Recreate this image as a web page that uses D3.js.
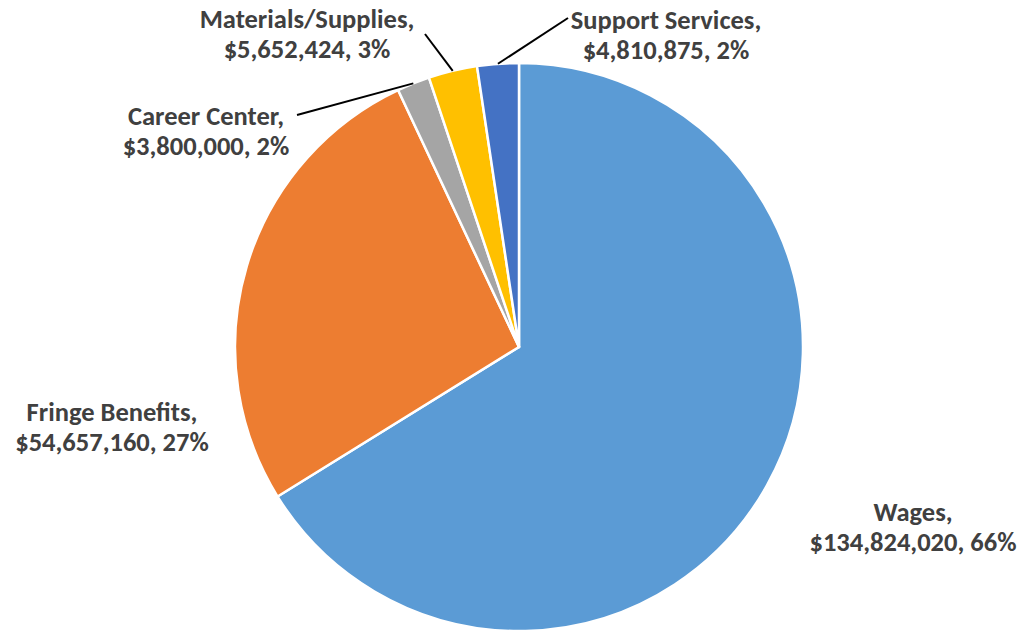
<!DOCTYPE html>
<html>
<head>
<meta charset="utf-8">
<script src="https://cdn.jsdelivr.net/npm/d3@7"></script>
<style>
  html, body { margin: 0; padding: 0; background: #fff; }
  svg text { font-family: Carlito, Lato, "Open Sans", sans-serif; font-weight: bold; fill: #404040; }
</style>
</head>
<body>
<script>
const w = 1021;
const h = 630;

// slice data, clockwise from 12 o'clock
const categories = ['Wages', 'Fringe Benefits', 'Career Center', 'Materials/Supplies', 'Support Services'];
const amounts = [134824020, 54657160, 3800000, 5652424, 4810875];
const percents = ['66%', '27%', '2%', '3%', '2%'];
const colors = ['#5B9BD5', '#ED7D31', '#A5A5A5', '#FFC000', '#4472C4'];

// label layout: centre of the two-line label, and where its leader line starts
const labelLayout = [
  { x: 913, y: 527, leader: false },
  { x: 112, y: 427, leader: false },
  { x: 206, y: 131, leader: true, lx: 297, ly: 115 },
  { x: 307, y: 34, leader: true, lx: 425, ly: 34 },
  { x: 666, y: 35, leader: true, lx: 568, ly: 18 }
];

const cx = 519, cy = 347, radius = 284;
const fontSize = 26.5;
const lineGap = 30;

const data = categories.map((c, i) => ({ name: c, value: amounts[i], pct: percents[i], color: colors[i], layout: labelLayout[i] }));

const svg = d3.select('body').append('svg')
  .attr('width', w)
  .attr('height', h);

const g = svg.append('g').attr('transform', `translate(${cx}, ${cy})`);

const pie = d3.pie().sort(null).value(d => d.value);
const arc = d3.arc().innerRadius(0).outerRadius(radius);
const arcs = pie(data);

g.selectAll('path')
  .data(arcs)
  .enter()
  .append('path')
  .attr('d', arc)
  .attr('fill', d => d.data.color)
  .attr('stroke', '#fff')
  .attr('stroke-width', 2.5)
  .attr('stroke-linejoin', 'round');

// leader lines go from the label to the middle of the slice's outer edge
const edge = d3.arc().innerRadius(radius).outerRadius(radius);
arcs.filter(d => d.data.layout.leader).forEach((d) => {
  const p = edge.centroid(d);
  svg.append('line')
    .attr('x1', d.data.layout.lx)
    .attr('y1', d.data.layout.ly)
    .attr('x2', cx + p[0])
    .attr('y2', cy + p[1])
    .attr('stroke', '#000')
    .attr('stroke-width', 2);
});

const fmt = d3.format('$,');
const labels = svg.selectAll('text.lbl')
  .data(arcs)
  .enter()
  .append('text')
  .attr('class', 'lbl')
  .attr('text-anchor', 'middle')
  .attr('font-size', fontSize)
  .attr('x', d => d.data.layout.x)
  .attr('y', d => d.data.layout.y);

labels.append('tspan')
  .attr('x', d => d.data.layout.x)
  .attr('dy', -lineGap / 2 + fontSize * 0.35)
  .text(d => d.data.name + ',');

labels.append('tspan')
  .attr('x', d => d.data.layout.x)
  .attr('dy', lineGap)
  .text(d => `${fmt(d.data.value)}, ${d.data.pct}`);
</script>
</body>
</html>
